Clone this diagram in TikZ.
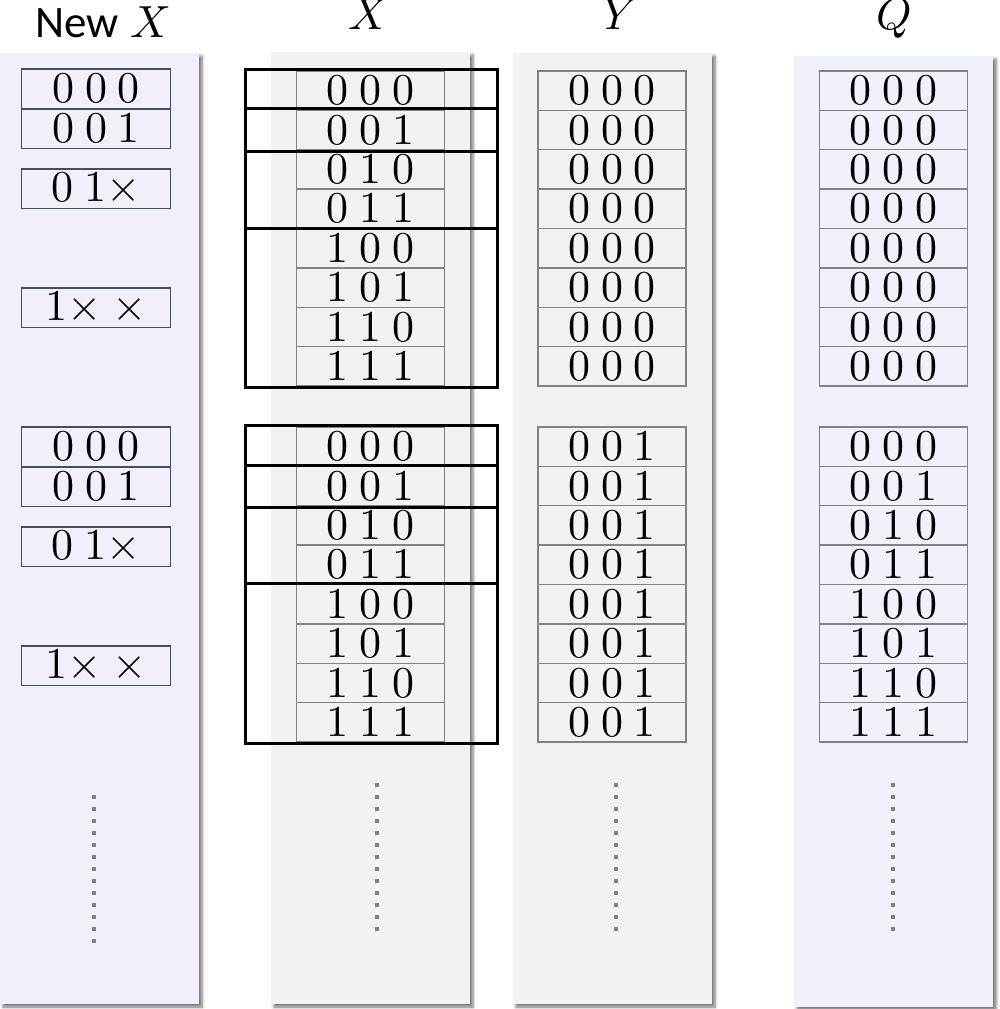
\RequirePackage{fix-cm}
\documentclass[tikz,border=0pt]{standalone}
\usepackage{fontspec}
\newfontfamily\calibri{Carlito}
\newfontfamily\digfont{lmroman10-regular.otf}
\newfontfamily\lmmath{latinmodern-math.otf}
\usetikzlibrary{shadows.blur}

\definecolor{lavbg}{RGB}{243,239,250}
\definecolor{graybg}{RGB}{242,242,242}
\definecolor{bluebg}{RGB}{239,242,250}
\definecolor{cellline}{RGB}{130,130,130}
\definecolor{newline}{RGB}{68,78,96}
\definecolor{dotcol}{RGB}{128,128,128}

\newcommand\bits[3]{#1\hspace{.24em}#2\hspace{.24em}#3}
\newcommand\tms{$\times$}
\newcommand\mitX{{\lmmath\symbol{"1D44B}}}
\newcommand\mitY{{\lmmath\symbol{"1D44C}}}
\newcommand\mitQ{{\lmmath\symbol{"1D444}}}

\tikzset{
  colbox/.style={draw=none, inner sep=0pt, outer sep=0pt, minimum width=199pt,
    blur shadow={shadow xshift=3pt, shadow yshift=-3pt, shadow blur radius=3pt, shadow opacity=55}},
  cell/.style={draw=cellline, line width=1.4pt, inner sep=0pt, outer sep=0pt,
    minimum width=148pt, minimum height=39.375pt, anchor=north,
    font=\digfont\fontsize{44}{44}\selectfont},
  newcell/.style={cell, draw=newline, minimum width=149pt},
  grpbox/.style={draw=black, line width=3pt, inner sep=0pt, outer sep=0pt,
    minimum width=252pt, anchor=north},
  dotline/.style={draw=dotcol, line width=4pt, dash pattern=on 4pt off 8pt},
  title/.style={anchor=base, inner sep=0pt, font=\fontsize{45}{50}\selectfont}
}

\begin{document}
\begin{tikzpicture}[x=1pt,y=-1pt]
\useasboundingbox (0,0) rectangle (1000,1009);

% column backgrounds
\node[colbox, fill=lavbg, minimum height=951pt] (colNew) at (99.5,528.5) {};
\node[colbox, fill=graybg, minimum height=952pt] (colX) at (370.5,528) {};
\node[colbox, fill=graybg, minimum height=951pt] (colY) at (612.5,528.5) {};
\node[colbox, fill=bluebg, minimum height=951pt] (colQ) at (893.5,531.5) {};

% titles
\node[title] (tNew) at (101.5,37) {{\calibri\fontsize{45}{50}\selectfont New}\hspace{0.25em}\mitX};
\node[title] (tX) at (367.5,29) {\mitX};
\node[title] (tY) at (615.5,29) {\mitY};
\node[title] (tQ) at (894,29) {\mitQ};

% New X column
\node[newcell] (n1a) at (96,69) {\bits000};
\node[newcell] (n1b) at (96,109) {\bits001};
\node[newcell] (n1c) at (96,169) {0\hspace{.24em}1\tms};
\node[newcell] (n1d) at (96,288) {1\tms\hspace{.24em}\tms};
\node[newcell] (n2a) at (96,427) {\bits000};
\node[newcell] (n2b) at (96,467) {\bits001};
\node[newcell] (n2c) at (96,527) {0\hspace{.24em}1\tms};
\node[newcell] (n2d) at (96,646) {1\tms\hspace{.24em}\tms};

% X, Y, Q cells
\foreach \a/\b/\c [count=\i from 0] in {0/0/0,0/0/1,0/1/0,0/1/1,1/0/0,1/0/1,1/1/0,1/1/1}{
  \node[cell] (xa\i) at (370.5,{71+\i*39.375}) {\bits\a\b\c};
  \node[cell] (xb\i) at (370.5,{427+\i*39.375}) {\bits\a\b\c};
  \node[cell] (ya\i) at (612,{71+\i*39.375}) {\bits000};
  \node[cell] (yb\i) at (612,{427+\i*39.375}) {\bits001};
  \node[cell] (qa\i) at (893.5,{71+\i*39.375}) {\bits000};
  \node[cell] (qb\i) at (893.5,{427+\i*39.375}) {\bits\a\b\c};
}

% group boxes in X column
\node[grpbox, minimum height=39pt] (g1a) at (371,69) {};
\node[grpbox, minimum height=43pt] (g1b) at (371,108) {};
\node[grpbox, minimum height=77.5pt] (g1c) at (371,151) {};
\node[grpbox, minimum height=158.5pt] (g1d) at (371,228.5) {};
\node[grpbox, minimum height=40pt] (g2a) at (371,425) {};
\node[grpbox, minimum height=42.7pt] (g2b) at (371,465) {};
\node[grpbox, minimum height=75.3pt] (g2c) at (371,507.7) {};
\node[grpbox, minimum height=160pt] (g2d) at (371,583) {};

% dotted continuation lines
\coordinate (dNa) at (94,795);  \coordinate (dNb) at (94,943);
\coordinate (dXa) at (377,783); \coordinate (dXb) at (377,931);
\coordinate (dYa) at (616,783); \coordinate (dYb) at (616,931);
\coordinate (dQa) at (893,783); \coordinate (dQb) at (893,931);
\draw[dotline] (dNa) -- (dNb);
\draw[dotline] (dXa) -- (dXb);
\draw[dotline] (dYa) -- (dYb);
\draw[dotline] (dQa) -- (dQb);
\end{tikzpicture}
\end{document}
